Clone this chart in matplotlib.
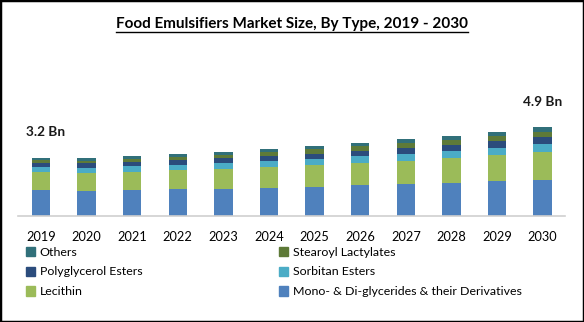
import matplotlib
matplotlib.use("Agg")
import matplotlib.pyplot as plt
from matplotlib.patches import Rectangle, Patch
from matplotlib.lines import Line2D
import numpy as np

years = ["2019", "2020", "2021", "2022", "2023", "2024", "2025", "2026", "2027", "2028", "2029", "2030"]
mono = [1.41, 1.39, 1.43, 1.48, 1.48, 1.55, 1.61, 1.72, 1.76, 1.81, 1.92, 1.98]
lecithin = [0.99, 0.99, 1.01, 1.04, 1.10, 1.15, 1.19, 1.21, 1.26, 1.37, 1.43, 1.54]
sorbitan = [0.27, 0.27, 0.31, 0.29, 0.35, 0.33, 0.33, 0.38, 0.38, 0.38, 0.38, 0.44]
polyglycerol = [0.27, 0.24, 0.22, 0.29, 0.26, 0.27, 0.31, 0.27, 0.35, 0.33, 0.38, 0.38]
stearoyl = [0.14, 0.14, 0.18, 0.15, 0.18, 0.22, 0.24, 0.26, 0.27, 0.27, 0.27, 0.27]
others = [0.14, 0.16, 0.16, 0.16, 0.15, 0.15, 0.18, 0.16, 0.20, 0.22, 0.22, 0.27]
series_names = ["Mono- & Di-glycerides & their Derivatives", "Lecithin", "Sorbitan Esters",
                "Polyglycerol Esters", "Stearoyl Lactylates", "Others"]
colors = ["#4F81BD", "#9BBB59", "#4BACC6", "#2B4C7C", "#5E7A38", "#31707A"]
labels = {"2019": "3.2 Bn", "2030": "4.9 Bn"}

FONT = "Lato"
plt.rcParams["font.family"] = [FONT, "DejaVu Sans"]

W, H = 584, 322
fig = plt.figure(figsize=(W / 100, H / 100), dpi=100)

# axes placement in pixels
left_px, right_px = 18.2, 565.4
base_px, top_px = 216, 107
ax = fig.add_axes([left_px / W, (H - base_px) / H, (right_px - left_px) / W, (base_px - top_px) / H])

data = [mono, lecithin, sorbitan, polyglycerol, stearoyl, others]
x = np.arange(len(years))
bottom = np.zeros(len(years))
for name, vals, c in zip(series_names, data, colors):
    ax.bar(x, vals, 0.4, bottom=bottom, color=c, label=name)
    bottom += np.array(vals)

for i, y in enumerate(years):
    if y in labels:
        ax.annotate(labels[y], (x[i], bottom[i]), xytext=(3 if i == 0 else 0, 14),
                    textcoords="offset points", ha="center", va="bottom",
                    fontsize=9.8, fontweight="bold", color="#1a1a1a")

ax.set_xlim(-0.5, len(years) - 0.5)
ax.set_ylim(0, 6)
ax.set_xticks(x)
ax.set_xticklabels(years, fontsize=9.2)
ax.tick_params(axis="x", length=0, pad=10.5)
ax.set_yticks([])
for s in ["top", "right", "left"]:
    ax.spines[s].set_visible(False)
ax.spines["bottom"].set_color("#d0d0d0")
ax.spines["bottom"].set_linewidth(1.2)

# legends
def mk(name, c):
    return Patch(facecolor=c, edgecolor=c, label=name)

col1 = [("Others", colors[5]), ("Polyglycerol Esters", colors[3]), ("Lecithin", colors[1])]
col2 = [("Stearoyl Lactylates", colors[4]), ("Sorbitan Esters", colors[2]),
        ("Mono- & Di-glycerides & their Derivatives", colors[0])]
common = dict(frameon=False, fontsize=8.9, handlelength=0.75, handleheight=0.75,
              handletextpad=0.35, labelspacing=0.72, borderpad=0, borderaxespad=0,
              loc="upper left")
leg1 = fig.legend(handles=[mk(n, c) for n, c in col1], bbox_to_anchor=(26 / W, 1 - 246.5 / H), **common)
leg2 = fig.legend(handles=[mk(n, c) for n, c in col2], bbox_to_anchor=(279 / W, 1 - 246.5 / H), **common)

# title with underline
t = fig.text(0.5, 1 - 28 / H, "Food Emulsifiers Market Size, By Type, 2019 - 2030",
             ha="center", va="baseline", fontsize=11, fontweight="bold", color="black")
fig.canvas.draw()
bb = t.get_window_extent()
uy = 1 - 31.5 / H
fig.add_artist(Line2D([bb.x0 / W, bb.x1 / W], [uy, uy], transform=fig.transFigure,
                      color="black", linewidth=1.0))

# border
fig.add_artist(Rectangle((0, 0), 1, 1, transform=fig.transFigure, fill=False,
                         edgecolor="black", linewidth=2.5))

fig.savefig("out.png", dpi=100)
